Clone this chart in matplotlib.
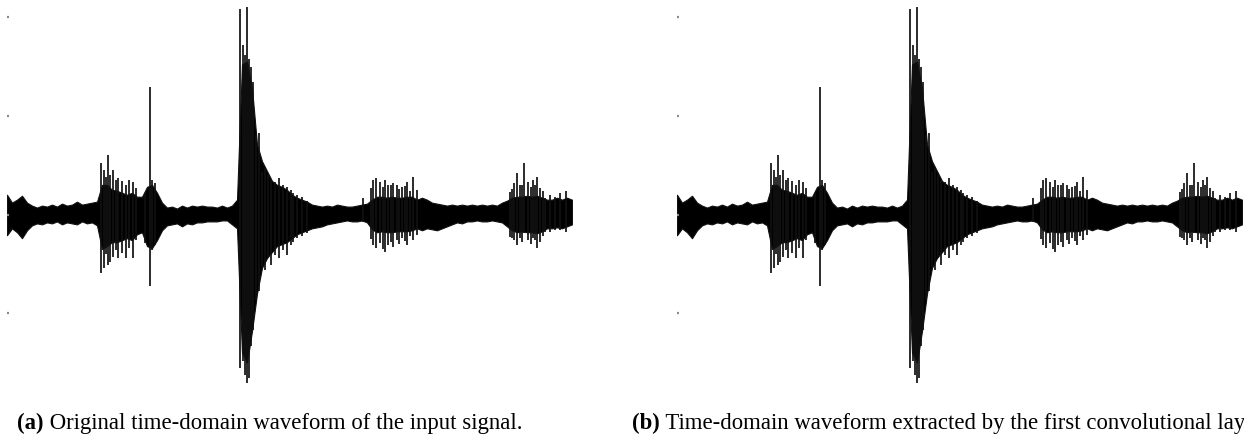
import numpy as np
import matplotlib
matplotlib.use("Agg")
import matplotlib.pyplot as plt

# ---------------- data (amplitude in arbitrary units) -------------
# dense-core envelope of the waveform, every 5 samples
env_t = list(range(0, 566, 5))
env_upper = [20, 12, 15, 19, 12, 9, 7, 9, 8, 10, 8, 11, 9, 10, 13, 10, 11, 12, 13,
             30, 30, 25, 24, 22, 20, 22, 18, 18, 28, 30, 22,
             12, 7, 8, 6, 9, 7, 9, 8, 9, 8, 8, 7, 9, 7, 9, 15,
             152, 155, 128, 71, 54, 44, 34, 30, 28, 25, 20, 17,
             15, 13, 10, 9, 8, 9, 8, 10, 9, 8, 8, 9, 10, 11,
             15, 18, 18, 17, 18, 17, 17, 18, 18, 15,
             17, 15, 12, 11, 10, 9, 10, 9, 10, 9, 10, 9, 10, 9, 10, 9, 12,
             14, 17, 18, 18, 19, 18, 19, 17, 15,
             15, 17, 15, 17, 15]
env_lower = [-21, -14, -18, -24, -16, -11, -9, -10, -8, -9, -7, -10, -8, -9, -10, -7, -9, -8, -11,
             -35, -32, -28, -28, -26, -24, -26, -20, -18, -32, -34, -26,
             -16, -11, -10, -9, -12, -9, -10, -8, -8, -7, -7, -7, -6, -6, -10, -14,
             -140, -150, -118, -80, -54, -44, -38, -32, -30, -28, -24, -20,
             -18, -16, -14, -13, -12, -10, -9, -8, -7, -6, -7, -7, -6, -8,
             -15, -18, -17, -18, -18, -17, -17, -17, -16, -14,
             -16, -14, -15, -16, -14, -12, -10, -8, -9, -7, -7, -6, -7, -7, -6, -7, -8,
             -12, -16, -18, -17, -18, -18, -19, -17, -14,
             -14, -13, -14, -12, -10]

# individual oscillation spikes (sample index, positive peak, negative peak)
spike_t = [94, 97, 99, 101, 103, 106, 109, 111, 115, 119, 122, 126, 129, 138, 143, 145, 148,
           233, 236, 238, 240, 242, 244, 246, 249, 252, 255, 258, 261, 264, 268, 272,
           276, 280, 284, 286, 290, 295, 300,
           356, 364, 366, 369, 373, 376, 378, 381, 384, 386, 390, 392, 395, 398, 400, 403,
           406, 410,
           503, 505, 507, 510, 513, 515, 517, 521, 524, 526, 528, 530, 533, 536, 538,
           543, 548, 553, 559]
spike_top = [52, 45, 38, 60, 40, 45, 35, 37, 34, 30, 35, 33, 27, 22, 129, 35, 32,
             208, 172, 162, 210, 157, 149, 134, 81, 83, 43, 47, 40, 35, 33, 37,
             30, 28, 25, 22, 20, 18, 14,
             17, 27, 35, 37, 33, 28, 35, 30, 30, 32, 30, 26, 28, 29, 33, 24,
             38, 25,
             23, 26, 32, 42, 30, 30, 52, 33, 28, 35, 30, 38, 27, 24, 17,
             20, 18, 22, 24]
spike_bot = [-59, -54, -40, -51, -48, -43, -36, -44, -39, -44, -34, -44, -26, -29, -72, -36, -31,
             -155, -148, -163, -171, -166, -133, -117, -87, -77, -53, -56, -44, -51, -41, -44,
             -36, -41, -31, -28, -24, -22, -19,
             -8, -25, -31, -34, -29, -35, -38, -31, -28, -33, -26, -30, -24, -27, -31, -22,
             -26, -21,
             -23, -24, -26, -31, -24, -28, -19, -26, -30, -24, -26, -34, -28, -22, -18,
             -18, -16, -16, -18]

captions = [("(a)", " Original time-domain waveform of the input signal."),
            ("(b)", " Time-domain waveform extracted by the first convolutional layer.")]

# ---------------- figure ----------------
W, H = 1244, 441
fig = plt.figure(figsize=(W / 100, H / 100), dpi=100)

ylim = (-190, 215)
px_per_unit = 0.9875
ax_h = (ylim[1] - ylim[0]) * px_per_unit
ax_bottom_px = 214.5 + (-ylim[0]) * px_per_unit  # from top
panel_left_px = [7, 677]
panel_w_px = 565
cap_left_px = [17, 632]

for k in range(2):
    ax = fig.add_axes([panel_left_px[k] / W, (H - ax_bottom_px) / H,
                       panel_w_px / W, ax_h / H])
    ax.fill_between(env_t, env_lower, env_upper, color="black", lw=0.8,
                    edgecolor="#111111")
    ax.vlines(spike_t, spike_bot, spike_top, color="#111111", lw=1.25)
    ax.set_xlim(0, 565)
    ax.set_ylim(*ylim)
    for s in ax.spines.values():
        s.set_visible(False)
    ax.set_xticks([])
    ax.set_yticks([200, 100, 0, -100])
    ax.set_yticklabels([])
    ax.tick_params(axis="y", direction="in", length=1.5, width=1.6, colors="#8a8a8a")

    bold, rest = captions[k]
    t1 = fig.text(cap_left_px[k] / W, 1 - 429 / H, bold, fontsize=16.4, fontweight="bold",
                  family="Liberation Serif", va="baseline", ha="left")
    ax.annotate(rest, xy=(1, 0), xycoords=t1, va="bottom", ha="left",
                fontsize=16.4, family="Liberation Serif", annotation_clip=False)

fig.savefig("out.png", dpi=100)
